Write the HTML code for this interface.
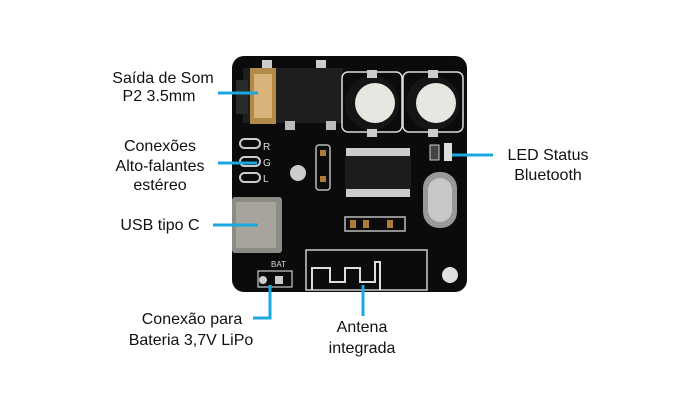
<!DOCTYPE html>
<html><head><meta charset="utf-8"><style>
html,body{margin:0;padding:0;background:#fff;}
svg{display:block}
text{font-family:"Liberation Sans",Arial,sans-serif;font-size:16px;fill:#111;}
</style></head><body>
<svg width="700" height="400" viewBox="0 0 700 400" xmlns="http://www.w3.org/2000/svg">
<rect width="700" height="400" fill="#fff"/>
<rect x="232" y="56" width="235" height="236" rx="12" fill="#0b0b0b"/>
<rect x="243" y="68" width="100" height="55" fill="#1e1e1e"/>
<rect x="236" y="80" width="12" height="34" fill="#2a2a2a"/>
<rect x="250" y="68" width="26" height="56" fill="#b48a4a"/>
<rect x="254" y="74" width="18" height="44" fill="#d9b47a"/>
<rect x="262" y="60" width="10" height="8" fill="#ccc"/>
<rect x="316" y="60" width="10" height="8" fill="#ccc"/>
<rect x="285" y="121" width="10" height="9" fill="#bbb"/>
<rect x="326" y="121" width="10" height="9" fill="#bbb"/>
<rect x="342" y="72" width="60" height="60" rx="6" fill="none" stroke="#ddd" stroke-width="1.5"/>
<rect x="403" y="72" width="60" height="60" rx="6" fill="none" stroke="#ddd" stroke-width="1.5"/>
<circle cx="372" cy="103" r="27" fill="#151515"/>
<circle cx="433" cy="103" r="27" fill="#151515"/>
<circle cx="375" cy="103" r="20" fill="#e8e6e0"/>
<circle cx="436" cy="103" r="20" fill="#e8e6e0"/>
<rect x="367" y="70" width="10" height="8" fill="#ccc"/>
<rect x="428" y="70" width="10" height="8" fill="#ccc"/>
<rect x="367" y="129" width="10" height="8" fill="#ccc"/>
<rect x="428" y="129" width="10" height="8" fill="#ccc"/>
<rect x="240" y="139" width="20" height="9" rx="4.5" fill="none" stroke="#ccc" stroke-width="2"/>
<rect x="240" y="157" width="20" height="9" rx="4.5" fill="none" stroke="#ccc" stroke-width="2"/>
<rect x="240" y="173" width="20" height="9" rx="4.5" fill="none" stroke="#ccc" stroke-width="2"/>
<text x="263" y="150" style="font-size:10px;fill:#ddd">R</text>
<text x="263" y="166" style="font-size:10px;fill:#ddd">G</text>
<text x="263" y="182" style="font-size:10px;fill:#ddd">L</text>
<circle cx="298" cy="173" r="8" fill="#ccc"/>
<rect x="316" y="145" width="14" height="45" rx="3" fill="none" stroke="#bbb" stroke-width="1.5"/>
<rect x="320" y="150" width="6" height="6" fill="#b07a3a"/>
<rect x="320" y="176" width="6" height="6" fill="#b07a3a"/>
<rect x="346" y="148" width="64" height="8" fill="#ccc"/>
<rect x="345" y="156" width="66" height="33" fill="#1c1c1c"/>
<rect x="346" y="189" width="64" height="8" fill="#ccc"/>
<rect x="430" y="145" width="9" height="15" fill="#444" stroke="#ccc"/>
<rect x="444" y="143" width="8" height="18" fill="#ddd"/>
<rect x="423" y="172" width="34" height="56" rx="16" fill="#999"/>
<rect x="428" y="178" width="24" height="44" rx="12" fill="#c8c8c8"/>
<rect x="345" y="217" width="60" height="14" fill="none" stroke="#bbb" stroke-width="1.5"/>
<rect x="350" y="220" width="6" height="8" fill="#b07a3a"/>
<rect x="363" y="220" width="6" height="8" fill="#b07a3a"/>
<rect x="387" y="220" width="6" height="8" fill="#b07a3a"/>
<rect x="232" y="197" width="50" height="56" rx="3" fill="#8d8b86"/>
<rect x="236" y="202" width="40" height="46" fill="#a7a49e"/>
<rect x="258" y="271" width="34" height="16" fill="none" stroke="#ccc" stroke-width="1.2"/>
<circle cx="263" cy="280" r="4" fill="#ccc"/>
<rect x="275" y="276" width="8" height="8" fill="#ccc"/>
<text x="271" y="267" style="font-size:8px;fill:#ddd">BAT</text>
<rect x="306" y="250" width="121" height="40" fill="none" stroke="#ccc" stroke-width="1.5"/>
<path d="M312 290 V268 H330 V282 H345 V268 H360 V282 H375 V262 H380 V290" fill="none" stroke="#ddd" stroke-width="2"/>
<circle cx="450" cy="275" r="8" fill="#e0e0e0"/>
<g stroke="#1aa8e0" stroke-width="3" fill="none">
<line x1="218" y1="93" x2="258" y2="93"/>
<line x1="218" y1="163" x2="257" y2="163"/>
<line x1="213" y1="225" x2="258" y2="225"/>
<line x1="452" y1="155" x2="493" y2="155"/>
<polyline points="270,285 270,318 253,318"/>
<line x1="363" y1="285" x2="363" y2="316"/>
</g>
<text x="163" y="83" text-anchor="middle">Saída de Som</text>
<text x="159" y="101" text-anchor="middle">P2 3.5mm</text>
<text x="160" y="151" text-anchor="middle">Conexões</text>
<text x="160" y="171" text-anchor="middle">Alto-falantes</text>
<text x="160" y="190" text-anchor="middle">estéreo</text>
<text x="160" y="230" text-anchor="middle">USB tipo C</text>
<text x="548" y="160" text-anchor="middle">LED Status</text>
<text x="548" y="180" text-anchor="middle">Bluetooth</text>
<text x="192" y="324" text-anchor="middle">Conexão para</text>
<text x="191" y="345" text-anchor="middle">Bateria 3,7V LiPo</text>
<text x="362" y="332" text-anchor="middle">Antena</text>
<text x="362" y="353" text-anchor="middle">integrada</text>
</svg>
</body></html>
